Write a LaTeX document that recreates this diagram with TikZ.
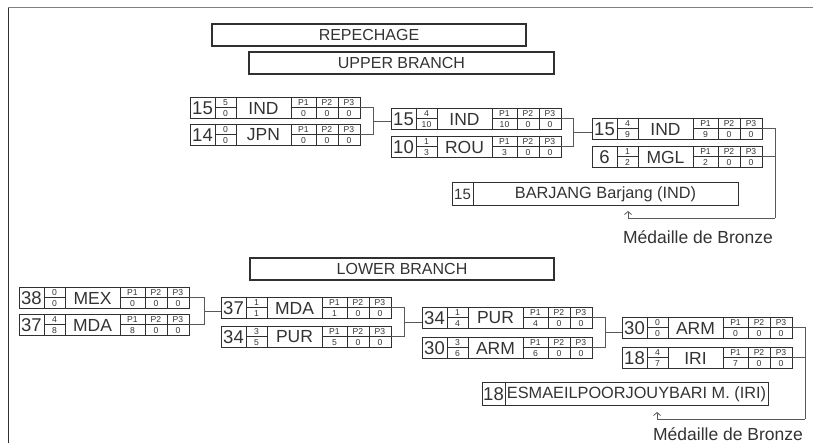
\documentclass[tikz,border=0pt]{standalone}
\usepackage{fontspec}
\setmainfont{Liberation Sans}
\usetikzlibrary{arrows.meta}
\definecolor{ink}{HTML}{333333}
\definecolor{lin}{HTML}{303030}
\tikzset{
  ebox/.style={draw=lin, line width=0.8pt, minimum width=170pt, minimum height=21pt, inner sep=0pt, outer sep=0pt},
  cellline/.style={draw=lin, line width=0.7pt},
  seedtxt/.style={font=\fontsize{18.5}{18}\selectfont, text=ink, inner sep=0pt},
  ctrytxt/.style={font=\fontsize{17.5}{18}\selectfont, text=ink, inner sep=0pt},
  fintxt/.style={font=\fontsize{16.3}{17}\selectfont, text=ink, inner sep=0pt},
  smalltxt/.style={font=\fontsize{8.6}{8.6}\selectfont, text=ink, inner sep=0pt, outer sep=0pt},
  tbox/.style={draw=lin, line width=1.6pt, inner sep=0pt, text=ink, font=\fontsize{16}{16}\selectfont},
  fbox/.style={draw=lin, line width=0.8pt, inner sep=0pt, minimum width=286pt, minimum height=23pt},
  conn/.style={draw=lin!80, line width=0.8pt},
  medal/.style={font=\fontsize{17.5}{18}\selectfont, text=ink, inner sep=0pt},
  tip/.style={-{Straight Barb[length=3pt,width=7pt]}}
}
\newcommand\entrybox[7]{%
\begin{scope}[shift={(#2)}]
 \node[ebox] (#1) at (85,10.5) {};
 \draw[cellline] (25,0) -- (25,21) (46,0) -- (46,21) (101,0) -- (101,21)
   (126,0) -- (126,21) (148,0) -- (148,21)
   (25,10.5) -- (46,10.5) (101,10.5) -- (170,10.5);
 \node[seedtxt] (#1-seed) at (12.5,11) {#3};
 \node[smalltxt] (#1-sa) at (35.5,5.2) {#4};
 \node[smalltxt] (#1-sb) at (35.5,16.2) {#5};
 \node[ctrytxt] (#1-c) at (73.5,11) {#6};
 \node[smalltxt] (#1-h1) at (113.5,5.2) {P1};
 \node[smalltxt] (#1-h2) at (137,5.2) {P2};
 \node[smalltxt] (#1-h3) at (159,5.2) {P3};
 \node[smalltxt] (#1-v1) at (113.5,16.2) {#7};
 \node[smalltxt] (#1-v2) at (137,16.2) {0};
 \node[smalltxt] (#1-v3) at (159,16.2) {0};
\end{scope}}
\begin{document}
\begin{tikzpicture}[x=1pt,y=-1pt]
\useasboundingbox (0,0) rectangle (813,443);
\draw[gray, line width=1pt] (8,8) -- (813,8);
\draw[lin, line width=1pt] (8,8) -- (8,443);

\node[tbox, minimum width=314pt, minimum height=22pt] (rep) at (369,35) {REPECHAGE};
\node[tbox, minimum width=305pt, minimum height=22pt] (upper) at (401.5,63) {UPPER BRANCH};
\node[tbox, minimum width=304pt, minimum height=22pt] (lower) at (402,269) {LOWER BRANCH};

% upper branch
\entrybox{u1a}{190,97}{15}{5}{0}{IND}{0}
\entrybox{u1b}{190,124}{14}{0}{0}{JPN}{0}
\entrybox{u2a}{391,108}{15}{4}{10}{IND}{10}
\entrybox{u2b}{391,136}{10}{1}{3}{ROU}{3}
\entrybox{u3a}{592,118}{15}{4}{9}{IND}{9}
\entrybox{u3b}{592,146}{6}{1}{2}{MGL}{2}

\coordinate (u1j) at (373,121);
\coordinate (u2j) at (573,132);
\coordinate (u3j) at (775,218);
\coordinate (u3t) at (628,211);
\draw[conn] (u1a.east) -| (u1j) (u1b.east) -| (u1j) (u1j) -- (u2a.west |- u1j);
\draw[conn] (u2a.east) -| (u2j) (u2b.east) -| (u2j) (u2j) -- (u3a.west |- u2j);
\draw[conn] (u3a.east) -| (u3j) (u3b.east) -| (u3j);
\draw[conn, tip] (u3j) -| (u3t);

\node[fbox] (ufin) at (595,193.5) {};
\draw[cellline] (473,182) -- (473,205);
\node[font=\fontsize{15}{15}\selectfont, text=ink, inner sep=0pt] (ufin-s) at (462.5,194) {15};
\node[fintxt] (ufin-n) at (605.5,194) {BARJANG Barjang (IND)};
\node[medal] (umedal) at (698,237) {Médaille de Bronze};

% lower branch
\entrybox{l1a}{19,287}{38}{0}{0}{MEX}{0}
\entrybox{l1b}{19,314}{37}{4}{8}{MDA}{8}
\entrybox{l2a}{221,297}{37}{1}{1}{MDA}{1}
\entrybox{l2b}{221,326}{34}{3}{5}{PUR}{5}
\entrybox{l3a}{422,307}{34}{1}{4}{PUR}{4}
\entrybox{l3b}{422,337}{30}{3}{6}{ARM}{6}
\entrybox{l4a}{622,317}{30}{0}{0}{ARM}{0}
\entrybox{l4b}{622,347}{18}{4}{7}{IRI}{7}

\coordinate (l1j) at (204,311);
\coordinate (l2j) at (404,322);
\coordinate (l3j) at (605,332.5);
\coordinate (l4j) at (805,419);
\coordinate (l4t) at (657,412);
\draw[conn] (l1a.east) -| (l1j) (l1b.east) -| (l1j) (l1j) -- (l2a.west |- l1j);
\draw[conn] (l2a.east) -| (l2j) (l2b.east) -| (l2j) (l2j) -- (l3a.west |- l2j);
\draw[conn] (l3a.east) -| (l3j) (l3b.east) -| (l3j) (l3j) -- (l4a.west |- l3j);
\draw[conn] (l4a.east) -| (l4j) (l4b.east) -| (l4j);
\draw[conn, tip] (l4j) -| (l4t);

\node[fbox] (lfin) at (625,393.5) {};
\draw[cellline] (505,382) -- (505,405);
\node[seedtxt] (lfin-s) at (493.5,394) {18};
\node[fintxt] (lfin-n) at (636.5,394) {ESMAEILPOORJOUYBARI M. (IRI)};
\node[medal] (lmedal) at (728,434) {Médaille de Bronze};
\end{tikzpicture}
\end{document}
